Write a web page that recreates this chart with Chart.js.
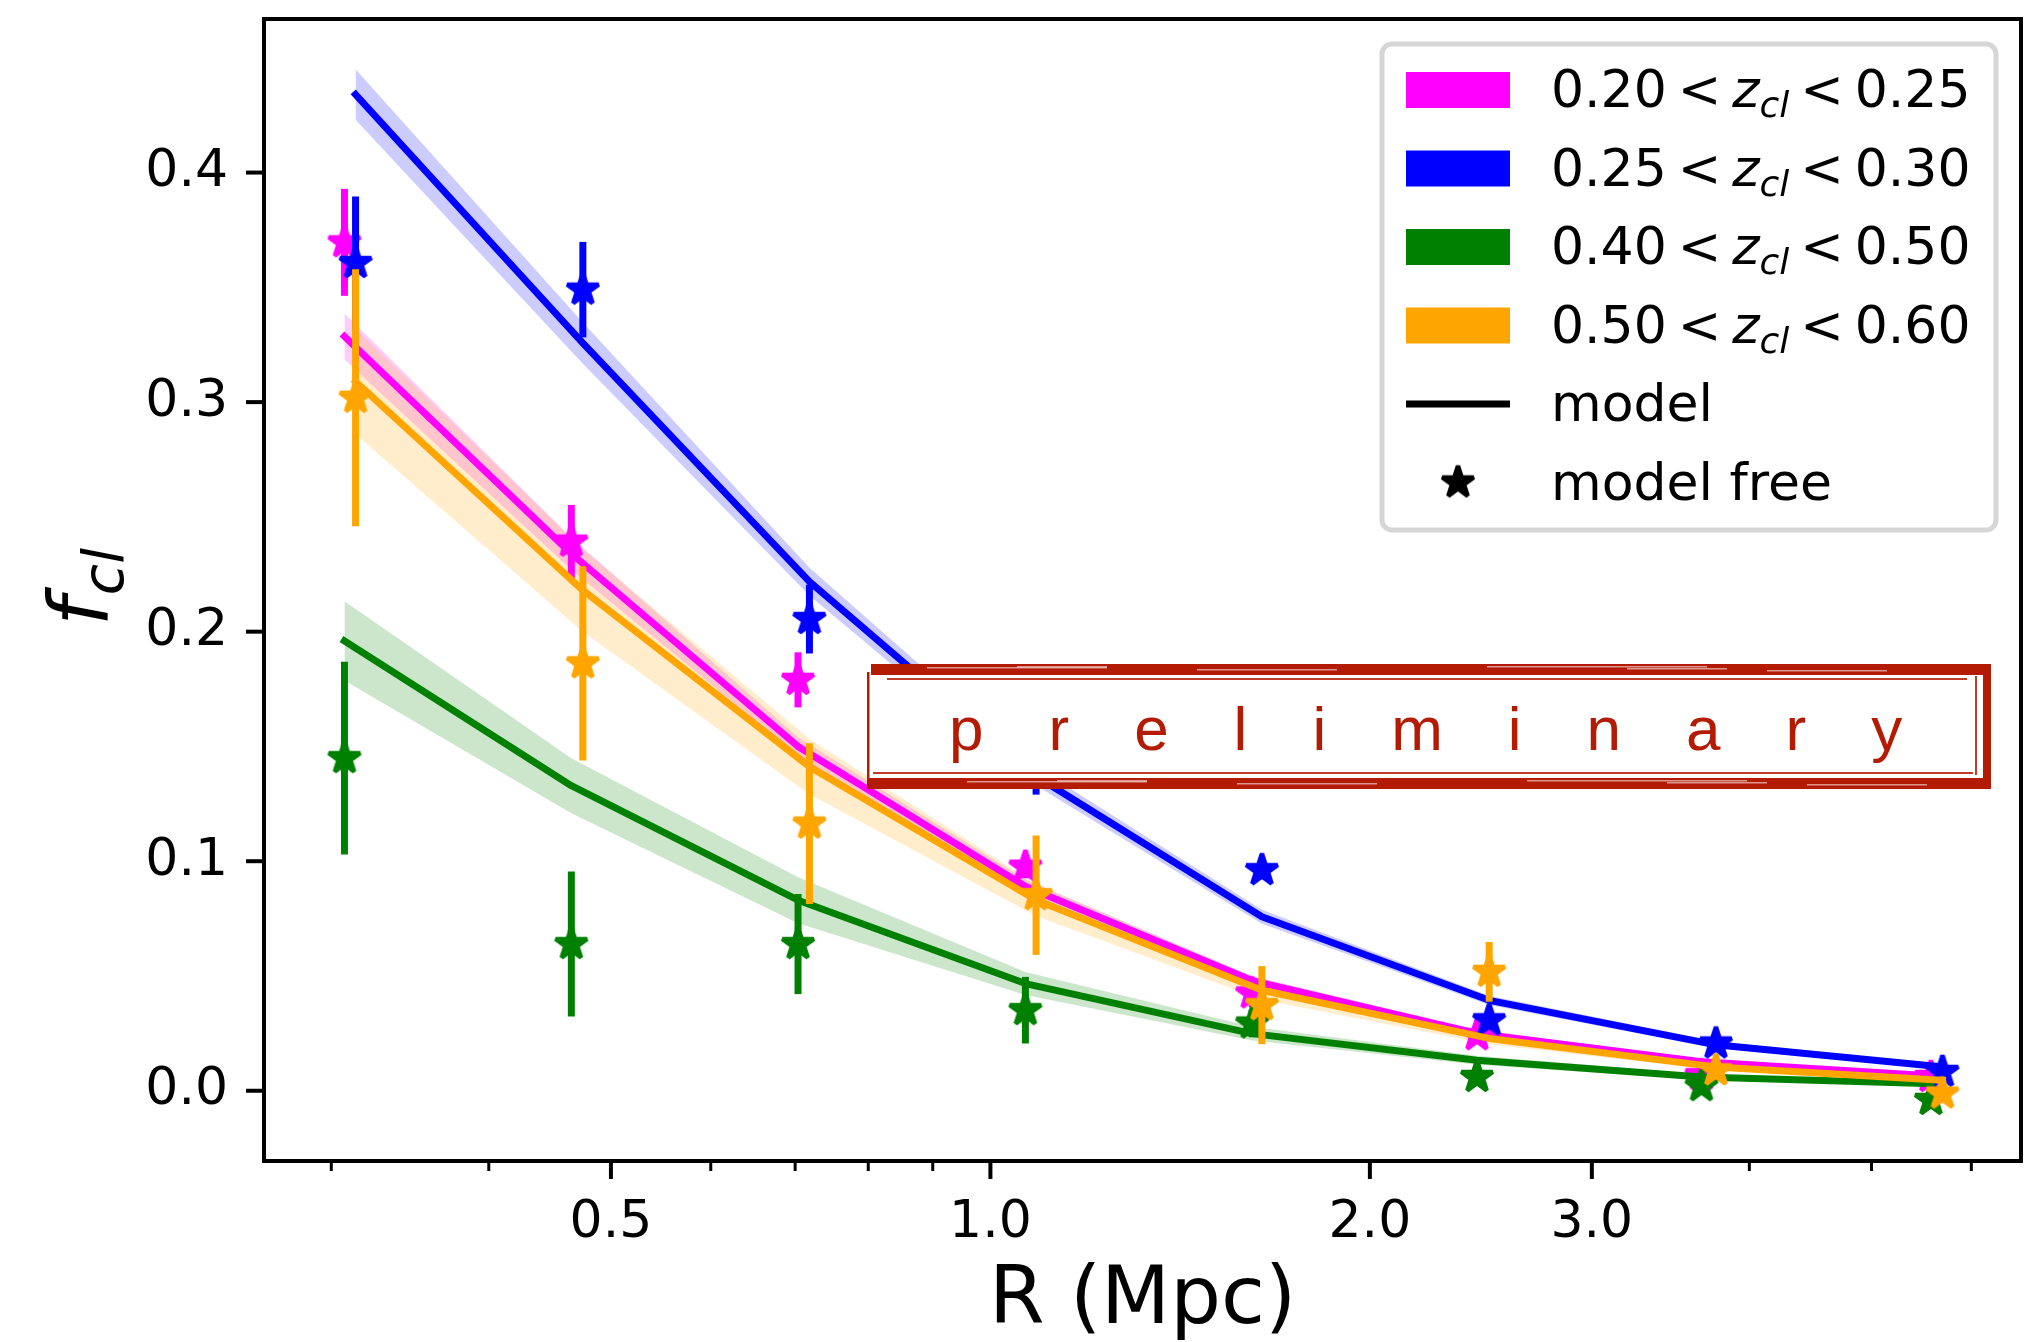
<!DOCTYPE html>
<html>
<head>
<meta charset="utf-8">
<script src="https://cdn.jsdelivr.net/npm/chart.js@4.4.1/dist/chart.umd.min.js"></script>
<style>
html,body{margin:0;padding:0;background:#fff;}
#wrap{width:2038px;height:1342px;position:relative;}
</style>
</head>
<body>
<div id="wrap"><canvas id="c" width="2038" height="1342"></canvas></div>
<script>
// ---------------- data ----------------
// radial bins (Mpc): the two pairs of redshift bins are plotted slightly offset
const rBinsA = [0.3073, 0.4651, 0.7037, 1.066, 1.613, 2.432, 3.665, 5.573]; // 0.20-0.25 and 0.40-0.50
const rBinsB = [0.3136, 0.4750, 0.7185, 1.087, 1.642, 2.487, 3.763, 5.692]; // 0.25-0.30 and 0.50-0.60

const zLow  = ['0.20', '0.25', '0.40', '0.50'];
const zHigh = ['0.25', '0.30', '0.50', '0.60'];
const seriesColors = ['#ff00ff', '#0000ff', '#008000', '#ffa500'];
const bandColors = ['rgba(255,0,255,0.2)', 'rgba(0,0,255,0.2)', 'rgba(0,128,0,0.2)', 'rgba(255,165,0,0.2)'];

// 0.20 < z < 0.25
const modelM = [0.3286, 0.234, 0.150, 0.089, 0.048, 0.025, 0.0126, 0.0065];
const bandM  = [0.010, 0.007, 0.004, 0.003, 0.002, 0.0015, 0.001, 0.0008];
const freeM  = [0.3696, 0.2392, 0.179, 0.0976, 0.0424, 0.0242, 0.0068, 0.006];
const errM   = [0.0233, 0.016, 0.012, 0.005, 0.006, 0.004, 0.003, 0.005];
// 0.25 < z < 0.30
const modelB = [0.434, 0.3257, 0.2218, 0.137, 0.0758, 0.0394, 0.020, 0.0104];
const bandB  = [0.011, 0.009, 0.006, 0.004, 0.003, 0.002, 0.0015, 0.001];
const freeB  = [0.3606, 0.349, 0.2055, 0.148, 0.0961, 0.0307, 0.0206, 0.0082];
const errB   = [0.029, 0.0208, 0.015, 0.019, 0.004, 0.004, 0.003, 0.003];
// 0.40 < z < 0.50
const modelG = [0.196, 0.1329, 0.083, 0.0467, 0.0249, 0.0133, 0.006, 0.0031];
const bandG  = [0.0173, 0.012, 0.010, 0.005, 0.003, 0.002, 0.0012, 0.001];
const freeG  = [0.1449, 0.0639, 0.0639, 0.0351, 0.0293, 0.006, 0.002, -0.004];
const errG   = [0.042, 0.0316, 0.0218, 0.0145, 0.006, 0.004, 0.003, 0.004];
// 0.50 < z < 0.60
const modelO = [0.309, 0.218, 0.1412, 0.0831, 0.0438, 0.0228, 0.0104, 0.0046];
const bandO  = [0.023, 0.018, 0.012, 0.007, 0.004, 0.0025, 0.0015, 0.001];
const freeO  = [0.3019, 0.1862, 0.1164, 0.0852, 0.0373, 0.0518, 0.0089, -0.0012];
const errO   = [0.056, 0.0423, 0.035, 0.026, 0.017, 0.013, 0.004, 0.004];

// axes
const xMin = 0.2653, xMax = 6.57;
const yMin = -0.0306, yMax = 0.4669;
const xMajorTicks = [0.5, 1.0, 2.0, 3.0];
const xMajorLabels = ['0.5', '1.0', '2.0', '3.0'];
const xMinorTicks = [0.3, 0.4, 0.6, 0.7, 0.8, 0.9, 4, 5, 6];
const yTicks = [0.0, 0.1, 0.2, 0.3, 0.4];
const yTickLabels = ['0.0', '0.1', '0.2', '0.3', '0.4'];
const xTitle = 'R (Mpc)';
const legendExtra = ['model', 'model free'];
const stampText = 'preliminary';

// ---------------- build ----------------
const FONT = '"DejaVu Sans", sans-serif';
const series = [
  {x: rBinsA, model: modelM, band: bandM, free: freeM, err: errM},
  {x: rBinsB, model: modelB, band: bandB, free: freeB, err: errB},
  {x: rBinsA, model: modelG, band: bandG, free: freeG, err: errG},
  {x: rBinsB, model: modelO, band: bandO, free: freeO, err: errO},
];

function makeStar(color) {
  const c = document.createElement('canvas');
  c.width = 48; c.height = 48;
  const g = c.getContext('2d');
  g.translate(24, 24);
  const R = 16.5, r = R * 0.381966;
  g.beginPath();
  for (let i = 0; i < 10; i++) {
    const a = -Math.PI / 2 + i * Math.PI / 5;
    const rr = i % 2 === 0 ? R : r;
    const px = rr * Math.cos(a), py = rr * Math.sin(a);
    if (i === 0) g.moveTo(px, py); else g.lineTo(px, py);
  }
  g.closePath();
  g.fillStyle = color; g.fill();
  g.lineWidth = 4.5; g.lineJoin = 'miter'; g.miterLimit = 1.5;
  g.strokeStyle = color; g.stroke();
  return c;
}

const datasets = [];
series.forEach((s, k) => {
  const pts = (ys) => s.x.map((x, i) => ({x: x, y: ys[i]}));
  datasets.push({
    data: pts(s.model.map((v, i) => v - s.band[i])),
    borderColor: 'rgba(0,0,0,0)', borderWidth: 0, pointRadius: 0, fill: false,
    order: 300 - k * 10
  });
  datasets.push({
    data: pts(s.model.map((v, i) => v + s.band[i])),
    borderColor: 'rgba(0,0,0,0)', borderWidth: 0, pointRadius: 0,
    fill: '-1', backgroundColor: bandColors[k],
    order: 299 - k * 10
  });
});
series.forEach((s, k) => {
  const pts = (ys) => s.x.map((x, i) => ({x: x, y: ys[i]}));
  datasets.push({
    data: pts(s.model),
    borderColor: seriesColors[k], borderWidth: 7, pointRadius: 0, fill: false,
    borderJoinStyle: 'round', borderCapStyle: 'square',
    order: 200 - k * 10
  });
  datasets.push({
    data: pts(s.free),
    showLine: false, fill: false,
    pointStyle: makeStar(seriesColors[k]), pointRadius: 12,
    errLo: s.free.map((v, i) => v - s.err[i]),
    errHi: s.free.map((v, i) => v + s.err[i]),
    errColor: seriesColors[k],
    order: 199 - k * 10
  });
});

const errorBarPlugin = {
  id: 'errbars',
  beforeDatasetDraw(chart, args) {
    const ds = chart.data.datasets[args.index];
    if (!ds.errLo) return;
    const ctx = chart.ctx, xs = chart.scales.x, ys = chart.scales.y;
    ctx.save();
    ctx.strokeStyle = ds.errColor; ctx.lineWidth = 7; ctx.lineCap = 'butt';
    ds.data.forEach((p, i) => {
      const px = xs.getPixelForValue(p.x);
      ctx.beginPath();
      ctx.moveTo(px, ys.getPixelForValue(ds.errLo[i]));
      ctx.lineTo(px, ys.getPixelForValue(ds.errHi[i]));
      ctx.stroke();
    });
    ctx.restore();
  }
};

function drawMathRange(ctx, x, y, lo, hi, size) {
  const sp = 0.21 * size;
  ctx.font = size + 'px ' + FONT;
  ctx.fillText(lo, x, y); x += ctx.measureText(lo).width + sp;
  ctx.fillText('<', x, y); x += ctx.measureText('<').width + sp;
  ctx.font = 'italic ' + size + 'px ' + FONT;
  ctx.fillText('z', x, y); x += ctx.measureText('z').width;
  const ss = Math.round(size * 0.7);
  ctx.font = 'italic ' + ss + 'px ' + FONT;
  ctx.fillText('cl', x, y + size * 0.2); x += ctx.measureText('cl').width + sp;
  ctx.font = size + 'px ' + FONT;
  ctx.fillText('<', x, y); x += ctx.measureText('<').width + sp;
  ctx.fillText(hi, x, y);
}

function drawStamp(ctx) {
  const L = 867, T = 664, R = 1991, B = 789, red = '#b31b04';
  ctx.save();
  ctx.fillStyle = '#ffffff';
  ctx.fillRect(L, T, R - L, B - T);
  ctx.fillStyle = red;
  ctx.fillRect(L + 4, T, R - L - 4, 11);
  ctx.fillRect(L, B - 11, R - L, 11);
  ctx.fillRect(R - 8, T, 8, B - T);
  ctx.fillRect(L, T + 8, 2.5, B - T - 16);
  ctx.globalAlpha = 0.85;
  ctx.fillRect(L + 20, T + 14, R - L - 44, 2);
  ctx.fillRect(R - 16, T + 12, 2, B - T - 26);
  ctx.fillRect(L + 6, B - 17, R - L - 24, 2);
  // worn streaks
  ctx.globalAlpha = 0.55;
  ctx.fillStyle = '#ffffff';
  const streaks = [[60, 3, 180], [330, 5, 140], [620, 2, 220], [900, 6, 120], [150, 2, 90], [760, 4, 100]];
  streaks.forEach(([ox, oy, w]) => {
    ctx.fillRect(L + ox, T + oy, w, 1.5);
    ctx.fillRect(L + ox + 40, B - 11 + oy, w, 1.5);
  });
  ctx.globalAlpha = 1;
  ctx.fillStyle = red;
  ctx.font = '62px "Liberation Sans", sans-serif';
  ctx.textBaseline = 'alphabetic'; ctx.textAlign = 'left';
  let x = 949;
  for (const ch of stampText) {
    ctx.fillText(ch, x, 750);
    x += ctx.measureText(ch).width + 65;
  }
  ctx.restore();
}

const decorPlugin = {
  id: 'decor',
  afterDraw(chart) {
    const ctx = chart.ctx, ca = chart.chartArea;
    const xs = chart.scales.x, ys = chart.scales.y;
    ctx.save();
    // ticks
    ctx.strokeStyle = '#000';
    ctx.lineWidth = 4;
    yTicks.forEach(v => {
      const py = ys.getPixelForValue(v);
      ctx.beginPath(); ctx.moveTo(ca.left - 18, py); ctx.lineTo(ca.left, py); ctx.stroke();
    });
    xMajorTicks.forEach(v => {
      const px = xs.getPixelForValue(v);
      ctx.beginPath(); ctx.moveTo(px, ca.bottom); ctx.lineTo(px, ca.bottom + 18); ctx.stroke();
    });
    ctx.lineWidth = 3;
    xMinorTicks.forEach(v => {
      const px = xs.getPixelForValue(v);
      ctx.beginPath(); ctx.moveTo(px, ca.bottom); ctx.lineTo(px, ca.bottom + 10); ctx.stroke();
    });
    // frame
    ctx.lineWidth = 4;
    ctx.strokeRect(ca.left, ca.top, ca.right - ca.left, ca.bottom - ca.top);

    // y title f_cl
    ctx.fillStyle = '#000';
    ctx.save();
    ctx.translate(107, 626);
    ctx.rotate(-Math.PI / 2);
    ctx.textBaseline = 'alphabetic'; ctx.textAlign = 'left';
    ctx.font = 'italic 82px ' + FONT;
    ctx.fillText('f', 0, 0);
    const fw = ctx.measureText('f').width;
    ctx.font = 'italic 57px ' + FONT;
    ctx.fillText('cl', fw + 2, 16);
    ctx.restore();

    // stamp
    drawStamp(ctx);

    // legend
    const LL = 1382, LT = 44, LR = 1996, LB = 530;
    ctx.beginPath();
    ctx.roundRect(LL, LT, LR - LL, LB - LT, 10);
    ctx.fillStyle = 'rgba(255,255,255,0.8)'; ctx.fill();
    ctx.lineWidth = 5; ctx.strokeStyle = '#d6d6d6'; ctx.stroke();
    const rows = [90, 168.5, 247, 325.5, 404, 482.5];
    const hx0 = 1406, hx1 = 1510, tx = 1551;
    ctx.textBaseline = 'alphabetic'; ctx.textAlign = 'left';
    for (let k = 0; k < 4; k++) {
      ctx.fillStyle = seriesColors[k];
      ctx.fillRect(hx0, rows[k] - 18, hx1 - hx0, 36);
      ctx.fillStyle = '#000';
      drawMathRange(ctx, tx, rows[k] + 17, zLow[k], zHigh[k], 52);
    }
    ctx.strokeStyle = '#000'; ctx.lineWidth = 7; ctx.lineCap = 'butt';
    ctx.beginPath(); ctx.moveTo(hx0, rows[4]); ctx.lineTo(hx1, rows[4]); ctx.stroke();
    const blackStar = makeStar('#000');
    ctx.drawImage(blackStar, (hx0 + hx1) / 2 - 24, rows[5] - 24);
    ctx.fillStyle = '#000';
    ctx.font = '52px ' + FONT;
    ctx.fillText(legendExtra[0], tx, rows[4] + 17);
    ctx.fillText(legendExtra[1], tx, rows[5] + 17);
    ctx.restore();
  }
};

new Chart(document.getElementById('c'), {
  type: 'line',
  data: {datasets: datasets},
  options: {
    responsive: false,
    devicePixelRatio: 1,
    animation: false,
    parsing: true,
    layout: {padding: {top: 19, right: 17, bottom: 0, left: 0}},
    plugins: {legend: {display: false}, tooltip: {enabled: false}},
    scales: {
      x: {
        type: 'logarithmic', min: xMin, max: xMax, bounds: 'data',
        afterBuildTicks: (s) => { s.ticks = xMajorTicks.map(v => ({value: v})); },
        afterFit: (s) => { s.height = 181; s.paddingLeft = 0; s.paddingRight = 0; },
        grid: {display: false, drawTicks: false},
        border: {display: false},
        ticks: {
          autoSkip: false, maxRotation: 0, minRotation: 0, padding: 31,
          color: '#000', font: {family: FONT, size: 52},
          callback: (v, i) => xMajorLabels[i]
        },
        title: {
          display: true, text: xTitle, color: '#000',
          font: {family: FONT, size: 80, lineHeight: 1},
          padding: {top: 0, bottom: 0}
        }
      },
      y: {
        type: 'linear', min: yMin, max: yMax, bounds: 'data',
        afterBuildTicks: (s) => { s.ticks = yTicks.map(v => ({value: v})); },
        afterFit: (s) => { s.width = 264; s.paddingTop = 0; s.paddingBottom = 0; },
        grid: {display: false, drawTicks: false},
        border: {display: false},
        ticks: {
          padding: 36, color: '#000', font: {family: FONT, size: 52},
          callback: (v, i) => yTickLabels[i]
        }
      }
    }
  },
  plugins: [errorBarPlugin, decorPlugin]
});
</script>
</body>
</html>
